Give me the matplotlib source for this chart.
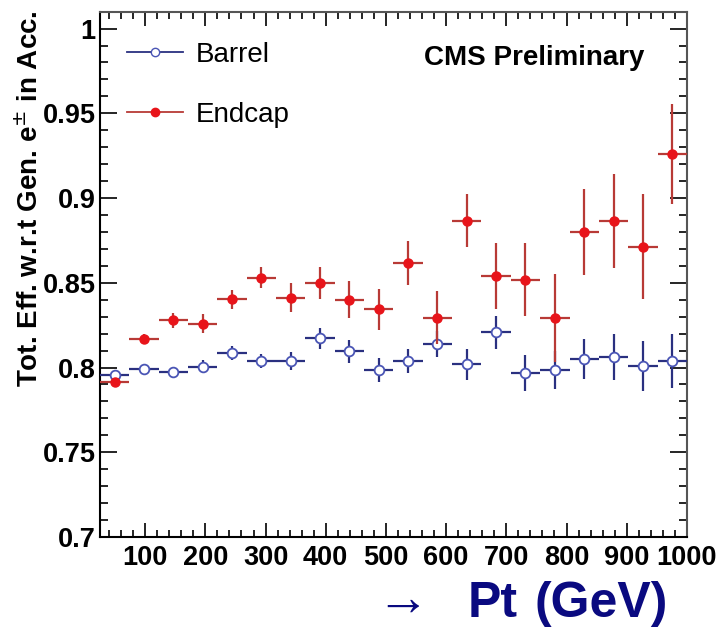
import numpy as np
import matplotlib.pyplot as plt
from matplotlib.lines import Line2D
from matplotlib.ticker import MultipleLocator, FixedLocator, FixedFormatter

plt.rcParams['font.family'] = ['Liberation Sans', 'DejaVu Sans']

# 20 Pt bins between 25 and 1000 GeV
pt_edges = np.linspace(25, 1000, 21)

barrel_eff = [0.7958, 0.7993, 0.7973, 0.8005, 0.8087, 0.8038, 0.8038, 0.8172, 0.8095, 0.7983,
              0.8040, 0.8138, 0.8018, 0.8207, 0.7967, 0.7987, 0.8050, 0.8061, 0.8008, 0.8038]
barrel_err = [0.0020, 0.0015, 0.0033, 0.0039, 0.0040, 0.0042, 0.0053, 0.0062, 0.0066, 0.0071,
              0.0072, 0.0075, 0.0091, 0.0098, 0.0108, 0.0112, 0.0120, 0.0136, 0.0147, 0.0159]

endcap_eff = [0.7914, 0.8167, 0.8278, 0.8258, 0.8403, 0.8529, 0.8412, 0.8498, 0.8401, 0.8344,
              0.8615, 0.8294, 0.8867, 0.8541, 0.8518, 0.8294, 0.8801, 0.8863, 0.8714, 0.9260]
endcap_err = [0.0020, 0.0030, 0.0043, 0.0057, 0.0057, 0.0062, 0.0085, 0.0096, 0.0111, 0.0121,
              0.0130, 0.0157, 0.0157, 0.0195, 0.0214, 0.0260, 0.0254, 0.0278, 0.0308, 0.0293]

y_ticks = [0.7, 0.75, 0.8, 0.85, 0.9, 0.95, 1.0]
y_ticklabels = ['0.7', '0.75', '0.8', '0.85', '0.9', '0.95', '1']
x_ticks = [100, 200, 300, 400, 500, 600, 700, 800, 900, 1000]

pt_centers = 0.5 * (pt_edges[:-1] + pt_edges[1:])
pt_halfwidth = 0.5 * np.diff(pt_edges)

blue_line = '#2a3080'
blue_mark = '#4a55b5'
red_line = '#b83a36'
red_mark = '#e8141a'
navy = '#0a0a80'

fig = plt.figure(figsize=(7.17, 6.28), dpi=100)
ax = fig.add_axes([0.1395, 0.1449, 0.8185, 0.8366])

ax.errorbar(pt_centers, barrel_eff, xerr=pt_halfwidth, yerr=barrel_err, fmt='o',
            color=blue_line, ecolor=blue_line, elinewidth=1.6, capsize=0,
            mfc='white', mec=blue_mark, mew=1.3, ms=7, zorder=3)
ax.errorbar(pt_centers, endcap_eff, xerr=pt_halfwidth, yerr=endcap_err, fmt='o',
            color=red_line, ecolor=red_line, elinewidth=1.6, capsize=0,
            mfc=red_mark, mec=red_mark, ms=6.5, zorder=4)

ax.set_xlim(25, 1000)
ax.set_ylim(0.7, 1.01)

ax.xaxis.set_major_locator(FixedLocator(x_ticks))
ax.xaxis.set_minor_locator(MultipleLocator(20))
ax.yaxis.set_major_locator(FixedLocator(y_ticks))
ax.yaxis.set_major_formatter(FixedFormatter(y_ticklabels))
ax.yaxis.set_minor_locator(MultipleLocator(0.01))

ax.tick_params(which='both', direction='in', top=True, right=True, width=1.2)
ax.tick_params(which='major', length=12, labelsize=19.5)
ax.tick_params(which='minor', length=6)
ax.tick_params(axis='y', which='major', pad=3)
ax.tick_params(axis='x', which='major', length=10, pad=6)
ax.tick_params(axis='x', which='minor', length=5)
for lab in ax.get_xticklabels() + ax.get_yticklabels():
    lab.set_fontweight('bold')

for side in ['left', 'bottom']:
    ax.spines[side].set_linewidth(1.5)
    ax.spines[side].set_color('black')
for side in ['top', 'right']:
    ax.spines[side].set_linewidth(1.5)
    ax.spines[side].set_color('#555555')

ax.set_ylabel('Tot. Eff. w.r.t Gen. e$^{\\pm}$ in Acc.', fontsize=20, fontweight='bold')
ax.yaxis.set_label_coords(-0.095, 0.645)

ax.text(0.927, 0.912, 'CMS Preliminary', transform=ax.transAxes, ha='right', va='center',
        fontsize=20, fontweight='bold')

handles = [
    Line2D([], [], color=blue_line, lw=1.3, marker='o', mfc='white', mec=blue_mark, ms=6),
    Line2D([], [], color=red_line, lw=1.3, marker='o', mfc=red_mark, mec=red_mark, ms=6),
]
ax.legend(handles, ['Barrel', 'Endcap'], loc='upper left', bbox_to_anchor=(0.004, 0.99),
          frameon=False, fontsize=20, handlelength=2.0, handletextpad=0.45, labelspacing=1.22)

# axis title drawn below the frame
fig.text(0.525, 0.003, '\u2192', ha='left', va='bottom', fontsize=38, color=navy)
fig.text(0.652, 0.038, 'Pt', ha='left', va='center', fontsize=36, fontweight='bold', color=navy)
fig.text(0.745, 0.038, '(GeV)', ha='left', va='center', fontsize=36, fontweight='bold', color=navy)

fig.savefig('out.png', dpi=100)
